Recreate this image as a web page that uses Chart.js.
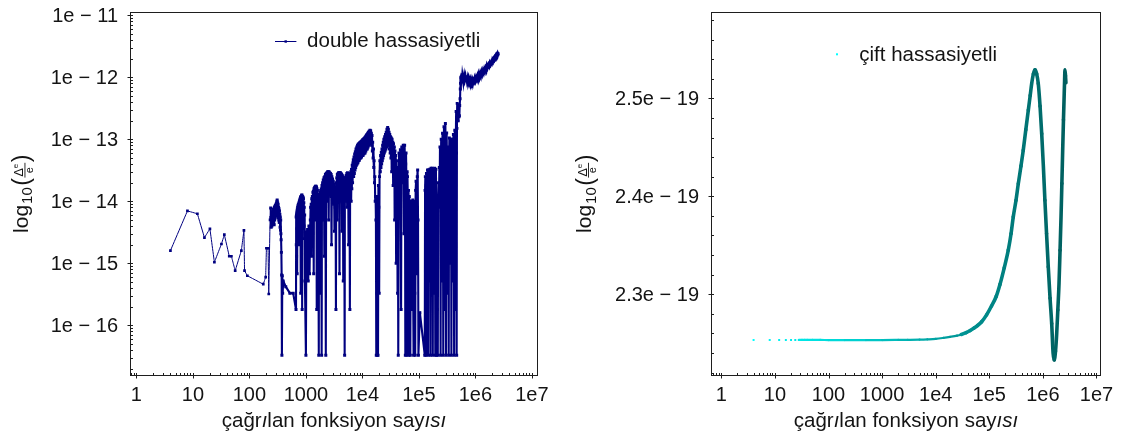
<!DOCTYPE html>
<html><head><meta charset="utf-8">
<script src="https://cdn.jsdelivr.net/npm/chart.js@4.4.1/dist/chart.umd.min.js"></script>
<style>
body{margin:0;background:#fff;width:1123px;height:439px;overflow:hidden;position:relative}
canvas{position:absolute;top:0}
</style></head>
<body>
<canvas id="c1" width="560" height="439" style="left:0"></canvas>
<canvas id="c2" width="563" height="439" style="left:560px"></canvas>
<script>
// ---------- DATA ----------
// [çağrılan fonksiyon sayısı, bağıl hata] — double hassasiyetli
const doubleSeries = [
[4,1.6e-15],[8,7.0e-15],[12,6.3e-15],[16,2.6e-15],[20,3.6e-15],[24,1.04e-15],[32,2.05e-15],[36,2.9e-15],[44,1.3e-15],[48,1.3e-15],[56,7.6e-16],[72,1.6e-15],[80,3.4e-15],[82,7.6e-16],[92,6.3e-16],[176,4.6e-16],[194,6.0e-16],[200,1.75e-15],[214,1.75e-15],[220,3.2e-16],[232,5.0e-15],[238,7.8e-15],
[240,5.5e-15],[243,3.8e-15],[246,6.5e-15],[250,4.0e-15],[253,6.8e-15],[256,4.5e-15],[259,7.0e-15],[262,4.6e-15],[265,7.4e-15],[268,4.3e-15],[271,7.6e-15],[274,4.2e-15],[277,8.0e-15],[280,5.0e-15],[283,8.3e-15],[286,5.4e-15],[289,8.6e-15],[292,5.8e-15],[295,9.0e-15],[298,6.0e-15],[301,9.4e-15],[304,6.3e-15],[307,1.0e-14],[310,1.05e-14],[313,6.5e-15],[316,9.5e-15],[319,6.0e-15],[322,9.0e-15],[325,5.5e-15],[328,8.0e-15],[331,5.0e-15],[334,7.6e-15],[337,4.6e-15],[340,7.0e-15],[343,4.6e-15],[346,6.2e-15],[349,3.8e-15],[352,5.6e-15],[355,3.4e-15],[358,5.0e-15],[361,3.0e-15],[364,2.4e-15],[368,1.5e-15],[372,6.5e-16],[376,3.3e-17],
[382,6.3e-16],[388,3.3e-16],[396,5.2e-16],[440,4.2e-16],[520,3.3e-16],[595,3.3e-16],[668,1.8e-16],
[672,5.6e-15],[676,2.0e-15],[680,6.0e-15],[684,1.3e-15],[688,6.5e-15],[692,3.6e-15],[696,7.0e-15],[700,6.8e-16],[705,7.5e-15],[710,3.5e-15],[715,8.0e-15],[720,3.0e-15],[725,8.5e-15],[730,4.5e-15],[735,9.0e-15],[740,2.0e-15],[745,9.0e-15],[750,5.0e-15],[755,9.5e-15],[760,4.0e-15],[766,1.0e-14],[772,5.5e-15],[778,1.05e-14],[784,5.0e-15],[790,1.1e-14],[796,6.0e-15],[803,1.15e-14],[810,3.3e-16],[816,1.2e-14],[822,6.5e-15],[828,1.2e-14],[834,6.0e-15],[840,1.25e-14],[846,7.0e-15],[852,1.26e-14],[858,1.8e-16],[864,1.2e-14],[870,7.0e-15],[877,1.2e-14],[884,7.0e-15],[891,1.15e-14],[898,6.0e-15],[905,1.1e-14],[912,5.0e-15],[919,9.5e-15],[926,4.0e-15],[934,8.0e-15],[942,2.5e-15],[950,6.0e-15],[960,5.2e-16],
[1000,3.3e-17],[1020,3.2e-15],[1045,1.3e-15],[1070,3.5e-15],[1100,5.2e-16],[1130,4.0e-15],[1160,6.8e-16],
[1185,3.2e-15],[1197,5.0e-15],[1210,8.0e-15],[1225,3.0e-15],[1240,9.0e-15],[1255,1.3e-15],[1270,1.1e-14],[1285,5.0e-15],[1300,1.2e-14],[1315,3.0e-15],[1330,1.4e-14],[1345,7.0e-15],[1360,1.45e-14],[1375,6.8e-16],[1390,1.6e-14],[1405,8.0e-15],[1420,1.65e-14],[1435,5.0e-15],[1450,1.7e-14],[1465,9.0e-15],[1480,1.75e-14],[1495,8.0e-15],[1510,1.75e-14],[1525,1.0e-14],[1540,1.7e-14],[1555,1.8e-16],[1570,1.6e-14],[1585,9.0e-15],[1600,1.5e-14],[1615,1.0e-14],[1630,1.3e-14],[1660,6.0e-15],[1690,3.3e-17],[1705,8.0e-15],[1720,3.0e-15],[1740,1.2e-14],[1760,6.0e-15],[1780,1.4e-14],[1800,3.3e-16],[1825,1.5e-14],[1850,8.0e-15],[1875,1.6e-14],[1900,3.3e-17],[1925,1.8e-14],[1950,9.0e-15],[1975,2.0e-14],[2000,5.0e-15],[2030,2.2e-14],[2060,1.2e-14],[2090,2.4e-14],[2120,1.3e-15],[2150,2.5e-14],[2180,1.4e-14],[2215,2.7e-14],[2250,3.3e-17],[2285,2.8e-14],[2320,1.6e-14],[2355,2.9e-14],[2390,1.0e-14],[2425,3.0e-14],[2460,1.7e-14],[2495,3.0e-14],[2530,5.0e-15],[2565,3.0e-14],[2600,1.6e-14],[2640,2.9e-14],[2680,1.5e-14],[2720,2.8e-14],[2760,1.2e-14],[2800,2.7e-14],[2840,2.0e-15],[2880,2.5e-14],[2920,1.2e-14],[2960,2.3e-14],[3000,1.0e-14],[3050,2.1e-14],[3100,9.0e-15],[3150,1.9e-14],[3200,3.3e-15],[3250,1.7e-14],[3300,8.0e-15],[3350,1.5e-14],[3400,1.8e-16],
[3440,2.0e-14],[3480,1.0e-14],[3520,2.4e-14],[3560,5.0e-15],[3600,2.7e-14],[3650,1.4e-14],[3700,2.8e-14],[3740,1.0e-14],[3790,2.9e-14],[3830,1.5e-14],[3880,2.9e-14],[3930,6.8e-16],[3980,2.9e-14],[4030,1.5e-14],[4080,2.9e-14],[4130,1.0e-14],[4190,2.8e-14],[4240,1.4e-14],[4300,2.7e-14],[4350,3.3e-15],[4400,2.6e-14],[4460,1.2e-14],[4520,2.5e-14],[4580,5.2e-16],[4640,2.4e-14],[4700,1.1e-14],[4770,2.3e-14],[4850,3.3e-17],[4900,2.2e-14],[4960,1.2e-14],[5030,2.4e-14],[5100,1.0e-14],[5160,2.6e-14],[5230,1.3e-14],[5300,2.8e-14],[5370,8.0e-15],[5440,2.9e-14],[5520,1.4e-14],[5600,2.8e-14],[5680,2.0e-15],[5760,2.7e-14],[5840,1.2e-14],[5920,2.6e-14],[6000,1.8e-16],[6070,2.8e-14],[6150,1.2e-14],[6230,3.0e-14],[6320,1.0e-14],[6410,3.3e-14],[6500,1.6e-14],[6600,3.8e-14],[6700,2.0e-14],[6800,4.2e-14],
[6900,4.7e-14],[7000,2.5e-14],[7100,5.2e-14],[7200,2.8e-14],[7300,5.8e-14],[7400,3.2e-14],[7500,6.3e-14],[7600,3.5e-14],[7700,7.0e-14],[7820,3.8e-14],[7950,7.5e-14],[8070,4.0e-14],[8200,8.0e-14],[8320,4.2e-14],[8450,8.3e-14],[8570,4.5e-14],[8700,8.6e-14],[8820,4.6e-14],[8950,8.8e-14],[9070,5.0e-14],[9200,9.0e-14],[9350,5.0e-14],[9500,9.2e-14],[9650,5.2e-14],[9800,9.5e-14],[9950,5.5e-14],[10100,9.8e-14],[10250,5.5e-14],[10400,1.0e-13],[10550,5.8e-14],[10700,1.03e-13],[10850,6.0e-14],[11000,1.06e-13],[11150,6.0e-14],[11300,1.1e-13],[11500,6.5e-14],[11700,1.15e-13],[11850,7.0e-14],[12000,1.2e-13],[12200,7.0e-14],[12400,1.25e-13],[12600,7.5e-14],[12800,1.3e-13],[13000,8.0e-14],[13200,1.35e-13],[13400,8.5e-14],[13600,1.4e-13],[13800,9.0e-14],[14000,1.38e-13],[14200,8.5e-14],[14400,1.25e-13],[14600,8.0e-14],[14800,1.15e-13],[15000,6.5e-14],[15200,9.0e-14],[15450,5.0e-14],[15700,7.0e-14],[15900,3.5e-14],[16100,4.5e-14],[16350,2.0e-14],[16600,2.5e-14],[16850,1.0e-14],[17100,1.2e-14],[17350,5.0e-15],[17600,3.3e-17],[17850,6.0e-15],[18100,3.3e-16],[18350,3.3e-17],[18600,1.2e-14],[18900,3.3e-17],[19200,1.8e-14],[19500,8.0e-15],[19800,3.3e-16],
[20100,2.5e-14],[20400,4.5e-14],[20700,3.0e-14],[21000,5.5e-14],[21300,3.5e-14],[21600,6.2e-14],[21900,4.0e-14],[22200,7.0e-14],[22500,4.5e-14],[22800,8.0e-14],[23100,5.0e-14],[23400,9.0e-14],[23700,5.5e-14],[24000,1.0e-13],[24400,6.0e-14],[24800,1.1e-13],[25200,6.5e-14],[25600,1.2e-13],[26000,7.0e-14],[26400,1.3e-13],[26800,7.5e-14],[27200,1.45e-13],[27600,8.0e-14],[28000,1.55e-13],[28400,8.5e-14],[28800,1.45e-13],[29200,8.0e-14],[29600,1.3e-13],[30000,7.0e-14],[30500,1.2e-13],[31000,6.0e-14],[31500,1.1e-13],[32000,5.0e-14],[32500,1.05e-13],[33000,3.0e-14],[33500,1.0e-13],[34000,3.5e-14],[34500,9.0e-14],[35000,1.8e-14],[35500,8.5e-14],[36100,3.0e-14],[36700,7.5e-14],[37200,5.0e-15],[37700,6.5e-14],[38300,2.0e-14],[38900,5.5e-14],[39500,1.0e-15],[40100,4.5e-14],[40700,1.5e-14],[41300,3.5e-14],[41900,3.3e-16],[42500,2.0e-14],[43100,3.3e-17],
[44400,6.0e-14],[45000,3.0e-14],[45700,1.0e-14],[46300,5.0e-14],[47000,6.8e-14],[47700,3.0e-14],[48400,1.8e-16],[49100,5.0e-14],[49800,7.5e-14],[50500,4.0e-14],[51300,2.0e-14],[52000,6.0e-14],[52800,8.0e-14],[53500,4.0e-14],[54300,3.0e-15],[55100,5.0e-14],[55900,8.0e-14],[56700,3.0e-14],[57500,3.3e-17],[58300,4.0e-14],[59200,6.0e-14],[60100,2.0e-14],[61000,3.3e-17],[61900,3.0e-14],[62800,2.5e-14],[63700,1.0e-14],[64600,3.3e-16],[65500,1.5e-14],[66500,3.3e-17],[67500,1.2e-14],[68500,9.0e-15],[69500,1.8e-16],[70500,3.3e-17],[71700,1.0e-14],[73000,6.0e-15],[74200,1.0e-14],[75500,1.8e-16],[76700,9.0e-15],[78000,1.05e-14],[79200,3.3e-16],[80500,3.3e-17],[81700,1.0e-14],[83000,6.0e-15],[84500,3.3e-16],[86000,3.3e-17],[87500,1.5e-14],[89000,2.1e-14],[90500,5.0e-15],[92000,6.8e-16],[93500,2.5e-14],[95000,3.2e-14],[96500,5.0e-15],[98000,3.3e-17],[104000,1.6e-16],
[127000,3.3e-17],[128500,1.5e-14],[130000,2.5e-14],[131500,5.0e-15],[133000,3.3e-17],[134500,1.8e-14],[136000,2.8e-14],[137500,8.0e-15],[139000,1.8e-16],[140500,2.0e-14],[142000,3.2e-14],[143500,6.0e-15],[145000,3.3e-17],[146500,2.2e-14],[148000,3.2e-14],[150000,8.0e-15],[152000,5.2e-16],[154000,2.2e-14],[156000,3.3e-14],[158000,1.0e-14],[160000,3.3e-17],[162000,2.5e-14],[164000,3.4e-14],[166000,8.0e-15],[168000,1.0e-15],[170000,2.4e-14],[172000,3.4e-14],[174000,6.0e-15],[176000,3.3e-17],[178000,2.2e-14],[180000,3.3e-14],[182500,1.0e-14],[185000,3.3e-16],[187500,2.4e-14],[190000,3.4e-14],[192500,8.0e-15],[195000,3.3e-17],[197500,2.3e-14],[200000,3.3e-14],[202500,6.0e-15],[205000,3.3e-17],[207500,1.0e-14],[210000,1.8e-16],[213000,8.0e-15],[216000,3.3e-17],
[219000,1.2e-14],[222000,2.0e-14],[226000,8.0e-15],[230000,3.5e-14],[233000,1.5e-14],[236000,7.5e-14],[239000,2.0e-14],[242000,3.3e-17],[245000,4.0e-14],[248000,1.0e-13],[251500,3.0e-14],[255000,5.2e-16],[258500,5.0e-14],[262000,1.25e-13],[266000,4.0e-14],[270000,3.3e-17],[274000,6.0e-14],[278000,1.6e-13],[282000,5.0e-14],[286000,1.8e-16],[290000,7.0e-14],[294000,1.8e-13],[298000,4.0e-14],[302000,3.3e-17],[306000,5.0e-14],[310000,1.26e-13],[314500,3.0e-14],[319000,3.3e-16],[323500,3.0e-14],[328000,7.5e-14],[332500,2.0e-14],[337000,3.3e-17],[341500,4.0e-14],[346000,1.05e-13],[351000,3.0e-14],[356000,1.0e-15],[361000,4.0e-14],[366000,1.0e-13],[371000,3.0e-14],[376000,3.3e-17],[381000,4.0e-14],[386000,1.0e-13],[391500,3.0e-14],[397000,5.2e-16],[402500,5.0e-14],[408000,1.2e-13],[414000,4.0e-14],[420000,3.3e-17],[426000,6.0e-14],[432000,1.4e-13],[438000,4.0e-14],[444000,1.8e-16],[450000,1.0e-13],[456000,2.8e-13],[461000,6.0e-14],[466000,3.3e-17],[471000,1.5e-13],[476000,3.8e-13],[483000,2.2e-13],[490000,2.6e-13],[497000,2.0e-13],[505000,3.6e-13],[512000,2.3e-13],[520000,2.4e-13],[527000,3.5e-13],[535000,4.5e-13],[540000,6.5e-13],[545000,8.0e-13],
[552000,1.0e-12],[560000,9.0e-13],[570000,1.05e-12],[580000,8.5e-13],[590000,1.05e-12],[600000,9.5e-13],[610000,1.1e-12],[620000,9.0e-13],[635000,1.05e-12],[650000,9.2e-13],[665000,1.02e-12],[680000,8.8e-13],[695000,1.0e-12],[710000,8.8e-13],[725000,9.6e-13],[740000,8.3e-13],[760000,9.4e-13],[780000,8.2e-13],[800000,9.0e-13],[820000,7.9e-13],[840000,8.9e-13],[860000,8.0e-13],[880000,8.8e-13],[900000,7.9e-13],[925000,9.0e-13],[950000,8.5e-13],[975000,9.6e-13],[1000000,8.8e-13],[1030000,1.0e-12],[1060000,9.2e-13],[1090000,1.04e-12],[1120000,9.4e-13],[1150000,1.1e-12],[1180000,1.0e-12],[1215000,1.15e-12],[1250000,1.05e-12],[1285000,1.22e-12],[1320000,1.12e-12],[1360000,1.28e-12],[1400000,1.18e-12],[1440000,1.35e-12],[1480000,1.25e-12],[1520000,1.4e-12],[1560000,1.3e-12],[1605000,1.55e-12],[1650000,1.45e-12],[1700000,1.6e-12],[1750000,1.5e-12],[1800000,1.7e-12],[1850000,1.6e-12],[1900000,1.75e-12],[1950000,1.68e-12],[2000000,1.9e-12],[2050000,1.8e-12],[2100000,1.98e-12],[2150000,1.9e-12],[2200000,2.1e-12],[2250000,2.02e-12],[2300000,2.2e-12],[2350000,2.1e-12],[2400000,2.35e-12],[2450000,2.45e-12],[2490000,2.3e-12],[2520000,2.4e-12]
];

// [çağrılan fonksiyon sayısı, bağıl hata] — çift hassasiyetli
const cifSeries = [
[4,2.2534e-19],[8,2.2534e-19],[12,2.2534e-19],[16,2.2534e-19],[20,2.2534e-19],[24,2.2534e-19],[28,2.2534e-19],[32,2.2534e-19],[36,2.2534e-19],[40,2.2534e-19],
[50,2.2534e-19],[70,2.2534e-19],[100,2.2533e-19],[200,2.2533e-19],[500,2.2533e-19],[1000,2.2533e-19],[2000,2.2534e-19],[3000,2.2535e-19],[5000,2.2537e-19],[7000,2.2540e-19],
[10000,2.2545e-19],[14000,2.2555e-19],[18500,2.2565e-19],[25000,2.2578e-19],[30000,2.2590e-19],[37000,2.2608e-19],[44000,2.2630e-19],[52000,2.2655e-19],[60000,2.2680e-19],[72000,2.2720e-19],[89000,2.2790e-19],[110000,2.2880e-19],[135000,2.2980e-19],[158000,2.3100e-19],[190000,2.3270e-19],[226000,2.3450e-19],[255000,2.3620e-19],[280000,2.3790e-19],[315000,2.3960e-19],[348000,2.4130e-19],[390000,2.4310e-19],[430000,2.4470e-19],[480000,2.4680e-19],[535000,2.4880e-19],[580000,2.5030e-19],[618000,2.5150e-19],[665000,2.5250e-19],[713000,2.5290e-19],[765000,2.5250e-19],[820000,2.5150e-19],[885000,2.4920e-19],[950000,2.4640e-19],[1020000,2.4310e-19],[1090000,2.3960e-19],[1170000,2.3620e-19],[1260000,2.3280e-19],[1360000,2.2960e-19],[1460000,2.2700e-19],[1550000,2.2400e-19],[1630000,2.2330e-19],[1720000,2.2420e-19],[1810000,2.2600e-19],[1900000,2.2840e-19],[2000000,2.3110e-19],[2090000,2.3450e-19],[2180000,2.3790e-19],[2260000,2.4130e-19],[2340000,2.4470e-19],[2420000,2.4780e-19],[2480000,2.4980e-19],[2540000,2.5180e-19],[2580000,2.5290e-19],[2640000,2.5230e-19],[2690000,2.5160e-19]
];

const xTickValues = [1,10,100,1000,1e4,1e5,1e6,1e7];
const xTickLabels = ['1','10','100','1000','1e4','1e5','1e6','1e7'];
const leftYTickValues = [1e-11,1e-12,1e-13,1e-14,1e-15,1e-16];
const leftYTickLabels = ['1e − 11','1e − 12','1e − 13','1e − 14','1e − 15','1e − 16'];
const rightYTickValues = [2.3e-19,2.4e-19,2.5e-19];
const rightYTickLabels = ['2.3e − 19','2.4e − 19','2.5e − 19'];
const legendLeft = 'double hassasiyetli';
const legendRight = 'çift hassasiyetli';
const xTitleParts = [['çağr',false],['ı',true],['lan fonksiyon say',false],['ısı',true]];

// ---------- STYLE / HELPERS ----------
const FONT = '"Liberation Sans", Arial, sans-serif';
const TXT = '#141414';
function cyanTeal(x){
  const t = Math.min(1, Math.max(0, (Math.log10(x) - 0.6) / (6.43 - 0.6)));
  const g = Math.round(255 - t * 160);
  return `rgb(0,${g},${g})`;
}
function logMinor(min, max){
  const out = [];
  for (let n = -20; n <= 8; n++) for (let k = 2; k <= 9; k++) {
    const v = k * Math.pow(10, n);
    if (v >= min && v <= max) out.push(v);
  }
  return out;
}
function drawXTitle(ctx, cx, by){
  const fN = `20.5px ${FONT}`, fI = `italic 20.5px ${FONT}`;
  let total = 0;
  for (const [s, it] of xTitleParts){ ctx.font = it ? fI : fN; total += ctx.measureText(s).width; }
  let x = cx - total/2;
  ctx.textAlign = 'left'; ctx.textBaseline = 'alphabetic';
  for (const [s, it] of xTitleParts){ ctx.font = it ? fI : fN; ctx.fillText(s, x, by); x += ctx.measureText(s).width; }
}
function drawYTitle(ctx, bx, cy){
  ctx.save();
  ctx.translate(bx, cy); ctx.rotate(-Math.PI/2);
  ctx.textAlign = 'left'; ctx.textBaseline = 'alphabetic';
  const f = s => `${s}px ${FONT}`;
  ctx.font = f(21); const wLog = ctx.measureText('log').width;
  ctx.font = f(15); const w10 = ctx.measureText('10').width;
  ctx.font = f(23); const wP = ctx.measureText('(').width;
  ctx.font = f(12.5); const wD = ctx.measureText('Δ').width;
  ctx.font = f(8); const wE = ctx.measureText('e').width;
  ctx.font = f(11); const wDen = ctx.measureText('e').width;
  const fw = Math.max(wD + wE, wDen) + 3;
  const total = wLog + 2 + w10 + 1.5 + wP + fw + wP;
  let u = -total/2;
  ctx.font = f(21); ctx.fillText('log', u, 0); u += wLog + 1;
  ctx.font = f(15); ctx.fillText('10', u, 4.5); u += w10 + 1.5;
  ctx.font = f(23); ctx.fillText('(', u, 1.5); u += wP;
  ctx.fillRect(u + 0.5, -3.0, fw - 1, 0.9);
  const nx = u + (fw - wD - wE)/2;
  ctx.font = f(12.5); ctx.fillText('Δ', nx, -4.6);
  ctx.font = f(8); ctx.fillText('e', nx + wD, -9.6);
  ctx.font = f(11); ctx.fillText('e', u + (fw - wDen)/2, 5.0);
  u += fw;
  ctx.font = f(23); ctx.fillText(')', u, 1.5);
  ctx.restore();
}

function decor(cfg){
  return {
    id: 'decor',
    afterDraw(chart){
      const ctx = chart.ctx, a = chart.chartArea, xs = chart.scales.x, ys = chart.scales.y;
      ctx.save();
      ctx.strokeStyle = '#1e1e1e'; ctx.lineWidth = 1;
      ctx.strokeRect(a.left, a.top, a.right - a.left, a.bottom - a.top);
      ctx.beginPath();
      for (const v of logMinor(xs.min, xs.max)){
        const p = Math.round(xs.getPixelForValue(v)) + 0.5;
        ctx.moveTo(p, a.bottom); ctx.lineTo(p, a.bottom - 2.5);
      }
      for (const v of xTickValues){
        const p = Math.round(xs.getPixelForValue(v)) + 0.5;
        ctx.moveTo(p, a.bottom - 2.5); ctx.lineTo(p, a.bottom + 3);
      }
      for (const v of cfg.yMinor){
        const p = Math.round(ys.getPixelForValue(v)) + 0.5;
        ctx.moveTo(a.left, p); ctx.lineTo(a.left + 2.5, p);
      }
      for (const v of cfg.yTicks){
        const p = Math.round(ys.getPixelForValue(v)) + 0.5;
        ctx.moveTo(a.left - 3, p); ctx.lineTo(a.left + 2.5, p);
      }
      ctx.stroke();
      ctx.fillStyle = TXT;
      ctx.font = `20px ${FONT}`;
      ctx.textAlign = 'center'; ctx.textBaseline = 'alphabetic';
      xTickValues.forEach((v, i) => ctx.fillText(xTickLabels[i], xs.getPixelForValue(v), 401));
      ctx.textAlign = 'right'; ctx.textBaseline = 'middle';
      cfg.yTicks.forEach((v, i) => ctx.fillText(cfg.yLabels[i], a.left - 12.5, ys.getPixelForValue(v) + 1));
      drawXTitle(ctx, (a.left + a.right)/2, 426.5);
      drawYTitle(ctx, cfg.yTitleX, 193.3);
      cfg.legend(ctx);
      ctx.restore();
    }
  };
}

function baseScales(xmin, xmax, ytype, ymin, ymax, yw){
  return {
    x: { type: 'logarithmic', min: xmin, max: xmax, bounds: 'data',
         grid: { display: false }, border: { display: false }, ticks: { display: false },
         afterFit: s => { s.height = 63.5; } },
    y: { type: ytype, min: ymin, max: ymax, bounds: 'data',
         grid: { display: false }, border: { display: false }, ticks: { display: false },
         afterFit: s => { s.width = yw; } }
  };
}

// ---------- LEFT CHART ----------
new Chart(document.getElementById('c1'), {
  type: 'scatter',
  data: { datasets: [{
    label: legendLeft,
    data: doubleSeries.map(p => ({ x: p[0], y: p[1] })),
    showLine: true, borderColor: '#000080', borderWidth: 1.5,
    tension: 0.0001, capBezierPoints: false,
    segment: { borderWidth: c => c.p0.parsed.x < 236 ? 1 : (c.p0.parsed.x > 545000 ? 2.6 : 2.1) },
    pointStyle: 'rect', pointRadius: c => (c.raw && c.raw.x < 236) ? 1.9 : 2.1, pointBorderWidth: 0,
    pointBackgroundColor: '#000080'
  }]},
  options: {
    responsive: false, animation: false, devicePixelRatio: 1,
    layout: { padding: { left: 0, right: 22.5, top: 12.5, bottom: 0 } },
    plugins: { legend: { display: false }, tooltip: { enabled: false } },
    scales: baseScales(0.786, 1.256e7, 'logarithmic', 1.55e-17, 1.11e-11, 130.5)
  },
  plugins: [decor({
    yTicks: leftYTickValues, yLabels: leftYTickLabels,
    yMinor: logMinor(1.55e-17, 1.11e-11), yTitleX: 27.5,
    legend(ctx){
      ctx.strokeStyle = '#000080'; ctx.lineWidth = 1;
      ctx.beginPath(); ctx.moveTo(275, 41.5); ctx.lineTo(296.4, 41.5); ctx.stroke();
      ctx.fillStyle = '#000080'; ctx.fillRect(284.5, 40.3, 2.4, 2.4);
      ctx.fillStyle = TXT; ctx.font = `20.5px ${FONT}`; ctx.textAlign = 'left'; ctx.textBaseline = 'alphabetic';
      ctx.fillText(legendLeft, 307.1, 46.5);
    }
  })]
});

// ---------- RIGHT CHART ----------
const rightMinor = [];
for (let i = 0; i <= 18; i++){ const k = 222 + 2*i; if (![230,240,250].includes(k)) rightMinor.push(k * 1e-21); }
new Chart(document.getElementById('c2'), {
  type: 'scatter',
  data: { datasets: [{
    label: legendRight,
    data: cifSeries.map(p => ({ x: p[0], y: p[1] })),
    showLine: true, borderWidth: 2, cubicInterpolationMode: 'monotone',
    segment: {
      borderColor: c => c.p0.parsed.x < 26 ? 'rgba(0,0,0,0)' : cyanTeal(c.p0.parsed.x),
      borderWidth: c => c.p0.parsed.x < 30000 ? 2.2 : 3.6
    },
    borderJoinStyle: 'round', borderCapStyle: 'round',
    pointStyle: 'rect', pointBorderWidth: 0,
    pointRadius: c => (c.raw && c.raw.x < 40) ? 1.4 : 0,
    pointBackgroundColor: c => cyanTeal(c.raw ? c.raw.x : 4)
  }]},
  options: {
    responsive: false, animation: false, devicePixelRatio: 1,
    layout: { padding: { left: 0, right: 22.5, top: 12.5, bottom: 0 } },
    plugins: { legend: { display: false }, tooltip: { enabled: false } },
    scales: baseScales(0.656, 1.188e7, 'linear', 2.2171e-19, 2.5876e-19, 151.5)
  },
  plugins: [decor({
    yTicks: rightYTickValues, yLabels: rightYTickLabels,
    yMinor: rightMinor, yTitleX: 31.1,
    legend(ctx){
      ctx.fillStyle = 'rgb(0,255,255)'; ctx.fillRect(276, 53.3, 2, 2);
      ctx.fillStyle = TXT; ctx.font = `20.5px ${FONT}`; ctx.textAlign = 'left'; ctx.textBaseline = 'alphabetic';
      ctx.fillText(legendRight, 299.3, 61);
    }
  })]
});
</script>
</body></html>
